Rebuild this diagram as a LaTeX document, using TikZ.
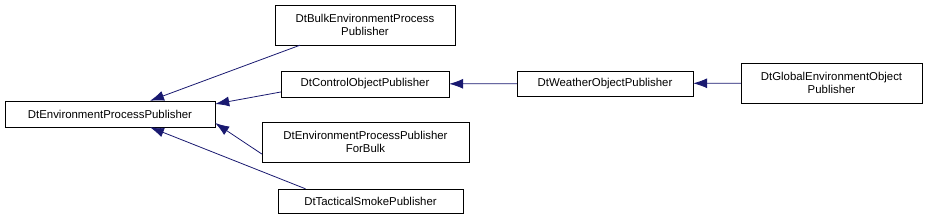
\documentclass[tikz,border=0pt]{standalone}
\usepackage{fontspec}
\setmainfont{Liberation Sans}
\usetikzlibrary{arrows.meta}

\tikzset{
  cls/.style={draw, fill=white, align=center, inner sep=1pt, minimum height=26pt,
    font=\fontsize{11.4}{12.5}\selectfont},
  inherit/.style={draw={rgb,255:red,25;green,25;blue,112}, thick,
    -{Latex[length=14pt,width=10pt]}}
}

\begin{document}
\begin{tikzpicture}[x=1pt,y=-1pt]
\useasboundingbox (0,0) rectangle (928,220);
\node[cls, minimum width=210pt] (base) at (110,114) {DtEnvironmentProcessPublisher};
\node[cls, minimum width=180pt, minimum height=40pt] (bulk) at (365,25) {DtBulkEnvironmentProcess\\Publisher};
\node[cls, minimum width=168pt] (control) at (365,84) {DtControlObjectPublisher};
\node[cls, minimum width=207pt, minimum height=40pt] (forbulk) at (365.5,142) {DtEnvironmentProcessPublisher\\ForBulk};
\node[cls, minimum width=185pt, minimum height=24pt] (smoke) at (370.5,201) {DtTacticalSmokePublisher};
\node[cls, minimum width=176pt, minimum height=25pt] (weather) at (605,83.5) {DtWeatherObjectPublisher};
\node[cls, minimum width=181pt, minimum height=40pt] (global) at (831.5,83) {DtGlobalEnvironmentObject\\Publisher};

\draw[inherit] ([xshift=-65pt]bulk.south) -- ([xshift=40pt]base.north);
\draw[inherit] ([yshift=-8pt]control.west) -- ([yshift=10pt]base.east);
\draw[inherit] ([yshift=-12pt]forbulk.west) -- ([yshift=-9pt]base.east);
\draw[inherit] ([xshift=-65pt]smoke.north) -- ([xshift=40pt]base.south);
\draw[inherit] (weather) -- (control);
\draw[inherit] (global) -- (weather);
\end{tikzpicture}
\end{document}
